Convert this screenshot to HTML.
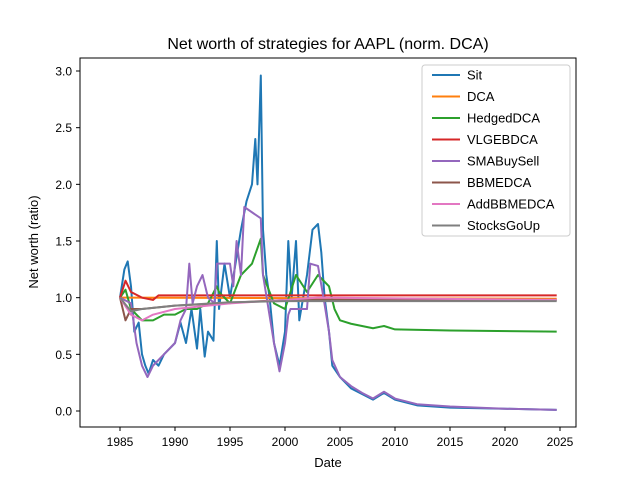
<!DOCTYPE html>
<html><head><meta charset="utf-8"><style>body{margin:0;background:#fff}svg{font-family:"Liberation Sans","DejaVu Sans",sans-serif}</style></head>
<body>
<svg id="chart" width="640" height="480" viewBox="0 0 640 480">
<rect width="640" height="480" fill="#fff"/>
<text x="328" y="49" font-size="16" text-anchor="middle">Net worth of strategies for AAPL (norm. DCA)</text>
<g id="plot"></g>
<rect x="80" y="58" width="496" height="369" fill="none" stroke="#000" stroke-width="1"/>
<text x="328" y="467" font-size="13" text-anchor="middle">Date</text>
<text x="38" y="242" font-size="13" text-anchor="middle" transform="rotate(-90 38 242)">Net worth (ratio)</text>
<g id="legend"></g>
</svg>
<script>
const xTicks=[1985,1990,1995,2000,2005,2010,2015,2020,2025];
const yTicks=[0,0.5,1,1.5,2,2.5,3];
const seriesNames=["Sit","DCA","HedgedDCA","VLGEBDCA","SMABuySell","BBMEDCA","AddBBMEDCA","StocksGoUp"];
const colors=["#1f77b4","#ff7f0e","#2ca02c","#d62728","#9467bd","#8c564b","#e377c2","#7f7f7f"];
const sitData=[[1985,1],[1985.4,1.25],[1985.7,1.32],[1986,1.1],[1986.3,0.7],[1986.7,0.78],[1987,0.5],[1987.3,0.4],[1987.6,0.33],[1988,0.45],[1988.5,0.4],[1989,0.5],[1989.5,0.55],[1990,0.6],[1990.5,0.78],[1991,0.6],[1991.5,0.9],[1992,0.55],[1992.3,0.9],[1992.7,0.48],[1993,0.7],[1993.5,0.62],[1993.8,1.5],[1994,0.9],[1994.5,1.3],[1995,1.0],[1995.5,1.3],[1996,1.6],[1996.5,1.85],[1997,2.0],[1997.3,2.4],[1997.5,2.0],[1997.8,2.96],[1998,1.6],[1998.3,1.2],[1998.6,1.0],[1999,0.6],[1999.5,0.4],[2000,0.7],[2000.3,1.5],[2000.6,1.0],[2001,1.5],[2001.3,0.8],[2002,1.2],[2002.5,1.6],[2003,1.65],[2003.3,1.4],[2003.6,1.0],[2004,0.7],[2004.3,0.4],[2005,0.3],[2006,0.2],[2007,0.15],[2008,0.1],[2009,0.16],[2010,0.1],[2012,0.05],[2015,0.03],[2020,0.02],[2024.7,0.01]];
const dcaData=[[1985,1],[1986,1.0],[2024.7,0.99]];
const hedgedData=[[1985,1],[1985.5,1.07],[1986,0.9],[1987,0.8],[1988,0.8],[1989,0.85],[1990,0.85],[1991,0.9],[1992,0.9],[1993,0.95],[1993.8,1.1],[1994,1.05],[1995,0.95],[1996,1.2],[1997,1.3],[1997.8,1.52],[1998,1.2],[1999,0.95],[2000,0.9],[2001,1.2],[2002,1.05],[2003,1.2],[2004,1.1],[2004.5,0.9],[2005,0.8],[2006,0.77],[2008,0.73],[2009,0.75],[2010,0.72],[2015,0.71],[2024.7,0.7]];
const vlgeData=[[1985,1],[1985.5,1.15],[1986,1.05],[1987,1.0],[1988,0.98],[1988.5,1.02],[2024.7,1.02]];
const smaData=[[1985,1],[1986,0.95],[1986.5,0.6],[1987,0.4],[1987.5,0.3],[1988,0.4],[1988.5,0.45],[1989,0.5],[1990,0.6],[1990.5,0.8],[1991,0.9],[1991.3,1.3],[1991.6,0.95],[1992,1.1],[1992.5,1.2],[1993,1.0],[1993.6,0.95],[1993.8,1.3],[1995,1.3],[1995.3,1.1],[1995.6,1.5],[1996,1.2],[1996.3,1.8],[1997.8,1.7],[1998,1.2],[1998.5,0.9],[1999,0.6],[1999.5,0.35],[2000,0.6],[2000.3,0.85],[2000.5,0.9],[2002,0.9],[2002.3,1.3],[2003,1.28],[2003.5,1.0],[2004,0.7],[2004.3,0.45],[2005,0.3],[2006,0.22],[2007,0.16],[2008,0.11],[2009,0.17],[2010,0.11],[2012,0.06],[2015,0.04],[2020,0.02],[2024.7,0.01]];
const bbmeData=[[1985,1],[1985.5,0.8],[1986,0.9],[1987,0.9],[1990,0.93],[2000,0.98],[2024.7,0.98]];
const addBbmeData=[[1985,1],[1986,0.85],[1987,0.8],[1988,0.85],[1990,0.9],[1992,0.92],[1995,0.95],[2000,0.98],[2003,1.0],[2024.7,0.98]];
const goUpData=[[1985,1],[1986,0.88],[1987,0.9],[1990,0.93],[1995,0.96],[2000,0.97],[2024.7,0.97]];
const allData=[sitData,dcaData,hedgedData,vlgeData,smaData,bbmeData,addBbmeData,goUpData];
const NS="http://www.w3.org/2000/svg";
const xS=v=>120+(v-1985)*11;
const yS=v=>411-v*113.33;
const plot=document.getElementById('plot');
const svg=document.getElementById('chart');
function mk(t,a,p){const e=document.createElementNS(NS,t);for(const k in a)e.setAttribute(k,a[k]);(p||svg).appendChild(e);return e;}
xTicks.forEach(t=>{const x=xS(t);
 const l=mk('line',{x1:x,x2:x,y1:427,y2:431,stroke:'#000'});
 
 
 const tx=mk('text',{x:x,y:446,'font-size':12,'text-anchor':'middle'});tx.textContent=t;
 
 });
yTicks.forEach(t=>{const y=yS(t);
 const l=mk('line',{x1:76,x2:80,y1:y,y2:y,stroke:'#000'});
 
 
 const tx=mk('text',{x:72,y:y+4.5,'font-size':12,'text-anchor':'end'});tx.textContent=t.toFixed(1);
 
 });
allData.forEach((d,i)=>{
 const p=mk('polyline',{points:d.map(q=>xS(q[0])+','+yS(q[1])).join(' '),fill:'none',stroke:colors[i],'stroke-width':2,'stroke-linejoin':'round'},plot);
 
 });
const lg=document.getElementById('legend');
const box=mk('rect',{x:422,y:65,width:148,height:171,rx:3,fill:'#fff','fill-opacity':0.8,stroke:'#ccc'},lg);


seriesNames.forEach((n,i)=>{const y=75+i*21.5;
 const g=mk('g',{},lg);
 
 
 mk('line',{x1:432,x2:460,y1:y,y2:y,stroke:colors[i],'stroke-width':2},g);
 const t=mk('text',{x:467,y:y+4.5,'font-size':13},g);t.textContent=n;});
</script>
</body></html>
